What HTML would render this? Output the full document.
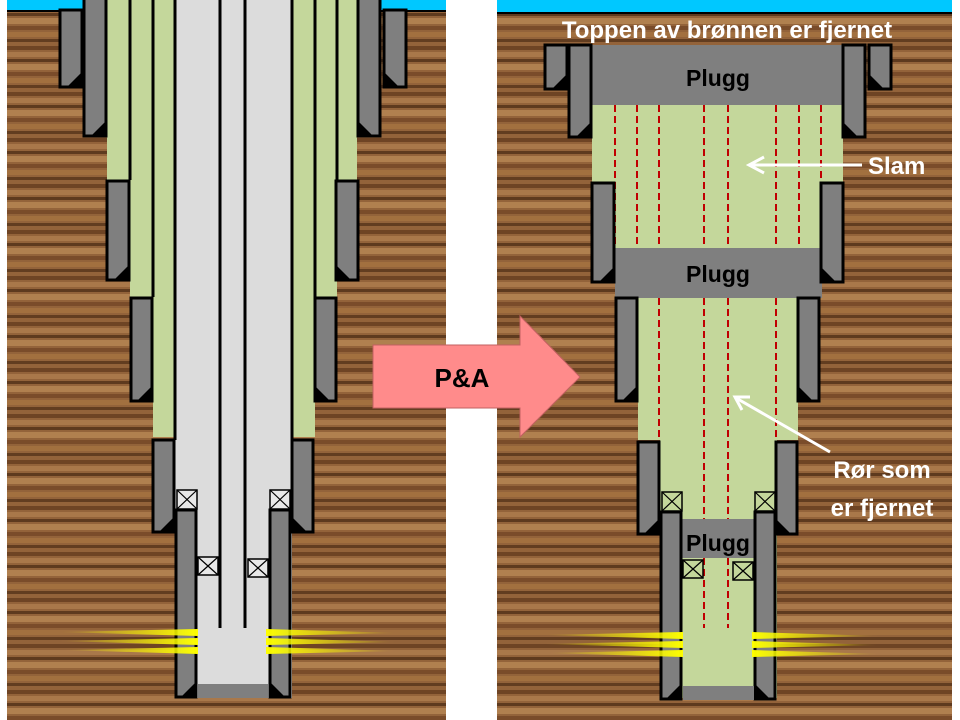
<!DOCTYPE html>
<html><head><meta charset="utf-8"><style>
html,body{margin:0;padding:0;background:#fff;width:960px;height:720px;overflow:hidden}
svg{display:block}
text{font-family:"Liberation Sans",sans-serif;font-weight:bold}
</style></head><body>
<svg width="960" height="720" viewBox="0 0 960 720" xmlns="http://www.w3.org/2000/svg">
<defs>
<pattern id="wood" width="440" height="46" patternUnits="userSpaceOnUse">
<rect width="440" height="46" fill="#93633a"/>
<rect y="0" width="440" height="4" fill="#6e4424"/>
<rect y="6" width="440" height="5" fill="#a9784a"/>
<rect y="13" width="440" height="3" fill="#5e3a1e"/>
<rect y="18" width="440" height="6" fill="#b0804f"/>
<rect y="26" width="440" height="4" fill="#7a4c2a"/>
<rect y="32" width="440" height="5" fill="#a2703f"/>
<rect y="39" width="440" height="3" fill="#623d20"/>
</pattern>
<linearGradient id="yl" x1="0" x2="1"><stop offset="0" stop-color="#ffff00" stop-opacity="0"/><stop offset="1" stop-color="#ffff00"/></linearGradient>
<linearGradient id="yr" x1="0" x2="1"><stop offset="0" stop-color="#ffff00"/><stop offset="1" stop-color="#ffff00" stop-opacity="0"/></linearGradient>
</defs>

<!-- LEFT PANEL -->
<rect x="7" y="0" width="439" height="720" fill="url(#wood)"/>
<rect x="7" y="0" width="439" height="10" fill="#00c8ff"/>
<rect x="7" y="10" width="439" height="2" fill="#000"/>
<rect x="107" y="0" width="250" height="180" fill="#c4d79b"/>
<rect x="130" y="0" width="207" height="297" fill="#c4d79b"/>
<rect x="153" y="0" width="162" height="437" fill="#c4d79b"/>
<rect x="175" y="0" width="117" height="698" fill="#dcdcdc"/>
<g stroke="#000" stroke-width="3">
<line x1="130" y1="0" x2="130" y2="180"/><line x1="337" y1="0" x2="337" y2="180"/>
<line x1="153" y1="0" x2="153" y2="297"/><line x1="315" y1="0" x2="315" y2="297"/>
<line x1="175" y1="0" x2="175" y2="440"/><line x1="292" y1="0" x2="292" y2="440"/>
<line x1="220" y1="0" x2="220" y2="628"/><line x1="245" y1="0" x2="245" y2="628"/>
</g>
<g fill="#7f7f7f" stroke="#000" stroke-width="3">
<rect x="60" y="10" width="22" height="77"/><rect x="384" y="10" width="22" height="77"/>
<rect x="84" y="-5" width="22" height="141"/><rect x="358" y="-5" width="22" height="141"/>
<rect x="107" y="181" width="22" height="99"/><rect x="336" y="181" width="22" height="99"/>
<rect x="131" y="298" width="21" height="103"/><rect x="315" y="298" width="21" height="103"/>
<rect x="153" y="440" width="21" height="92"/><rect x="292" y="440" width="21" height="92"/>
<rect x="176" y="510" width="20" height="187"/><rect x="270" y="510" width="20" height="187"/>
</g>
<g fill="#000">
<polygon points="82,72 82,87 67,87"/><polygon points="384,72 384,87 399,87"/>
<polygon points="106,121 106,136 91,136"/><polygon points="358,121 358,136 373,136"/>
<polygon points="129,265 129,280 114,280"/><polygon points="336,265 336,280 351,280"/>
<polygon points="152,386 152,401 137,401"/><polygon points="315,386 315,401 330,401"/>
<polygon points="174,517 174,532 159,532"/><polygon points="292,517 292,532 307,532"/>
<polygon points="196,682 196,697 181,697"/><polygon points="270,682 270,697 285,697"/>
</g>
<rect x="198" y="684" width="70" height="14" fill="#7f7f7f"/>
<g fill="#e8e8e8" stroke="#000" stroke-width="1.5">
<rect x="177" y="490" width="20" height="19"/><rect x="270" y="490" width="20" height="19"/>
<rect x="198" y="557" width="20" height="18"/><rect x="248" y="559" width="20" height="18"/>
</g>
<g stroke="#000" stroke-width="1.2">
<path d="M177 490L197 509M197 490L177 509M270 490L290 509M290 490L270 509M198 557L218 575M218 557L198 575M248 559L268 577M268 559L248 577"/>
</g>
<g>
<polygon points="58,632 198,629 198,636" fill="url(#yl)"/>
<polygon points="58,641 198,638 198,645" fill="url(#yl)"/>
<polygon points="62,650 198,647 198,654" fill="url(#yl)"/>
<polygon points="266,629 397,633 266,636" fill="url(#yr)"/>
<polygon points="266,638 397,642 266,645" fill="url(#yr)"/>
<polygon points="266,647 397,651 266,654" fill="url(#yr)"/>
</g>

<!-- RIGHT PANEL -->
<rect x="497" y="0" width="455" height="720" fill="url(#wood)"/>
<rect x="497" y="0" width="455" height="12" fill="#00c8ff"/>
<rect x="497" y="12" width="455" height="2" fill="#000"/>
<rect x="592" y="105" width="251" height="78" fill="#c4d79b"/>
<rect x="615" y="183" width="207" height="115" fill="#c4d79b"/>
<rect x="638" y="298" width="160" height="142" fill="#c4d79b"/>
<rect x="660" y="440" width="117" height="258" fill="#c4d79b"/>
<rect x="592" y="45" width="251" height="60" fill="#7f7f7f"/>
<rect x="615" y="248" width="207" height="50" fill="#7f7f7f"/>
<g stroke="#c00000" stroke-width="2" stroke-dasharray="7,4">
<path d="M615 105V248M637 105V248M659 105V248M704 105V248M728 105V248M776 105V248M799 105V248M821 105V248"/>
<path d="M659 298V440M704 298V520M728 298V520M776 298V440"/>
<path d="M704 558V628M728 558V628"/>
</g>
<rect x="682" y="519" width="72" height="39" fill="#7f7f7f"/>
<g fill="#7f7f7f" stroke="#000" stroke-width="3">
<rect x="545" y="45" width="22" height="44"/><rect x="869" y="45" width="22" height="44"/>
<rect x="569" y="45" width="22" height="92"/><rect x="843" y="45" width="22" height="92"/>
<rect x="592" y="183" width="22" height="99"/><rect x="821" y="183" width="22" height="99"/>
<rect x="616" y="298" width="21" height="103"/><rect x="798" y="298" width="21" height="103"/>
<rect x="638" y="442" width="21" height="92"/><rect x="776" y="442" width="21" height="92"/>
<rect x="661" y="512" width="20" height="187"/><rect x="755" y="512" width="20" height="187"/>
</g>
<g fill="#000">
<polygon points="567,74 567,89 552,89"/><polygon points="869,74 869,89 884,89"/>
<polygon points="591,122 591,137 576,137"/><polygon points="843,122 843,137 858,137"/>
<polygon points="614,267 614,282 599,282"/><polygon points="821,267 821,282 836,282"/>
<polygon points="637,386 637,401 622,401"/><polygon points="798,386 798,401 813,401"/>
<polygon points="659,519 659,534 644,534"/><polygon points="776,519 776,534 791,534"/>
<polygon points="681,684 681,699 666,699"/><polygon points="755,684 755,699 770,699"/>
</g>
<rect x="683" y="686" width="71" height="14" fill="#7f7f7f"/>
<g fill="#c4d79b" stroke="#000" stroke-width="1.5">
<rect x="662" y="492" width="20" height="19"/><rect x="755" y="492" width="20" height="19"/>
<rect x="683" y="560" width="20" height="18"/><rect x="733" y="562" width="20" height="18"/>
</g>
<g stroke="#000" stroke-width="1.2">
<path d="M662 492L682 511M682 492L662 511M755 492L775 511M775 492L755 511M683 560L703 578M703 560L683 578M733 562L753 580M753 562L733 580"/>
</g>
<g>
<polygon points="543,635 683,632 683,639" fill="url(#yl)"/>
<polygon points="543,644 683,641 683,648" fill="url(#yl)"/>
<polygon points="547,653 683,650 683,657" fill="url(#yl)"/>
<polygon points="752,632 880,636 752,639" fill="url(#yr)"/>
<polygon points="752,641 880,645 752,648" fill="url(#yr)"/>
<polygon points="752,650 880,654 752,657" fill="url(#yr)"/>
</g>

<text x="718" y="86" font-size="23" text-anchor="middle" fill="#000">Plugg</text>
<text x="718" y="282" font-size="23" text-anchor="middle" fill="#000">Plugg</text>
<text x="718" y="551" font-size="23" text-anchor="middle" fill="#000">Plugg</text>
<text x="727" y="38" font-size="24" text-anchor="middle" fill="#fff">Toppen av brønnen er fjernet</text>
<text x="868" y="174" font-size="24" fill="#fff">Slam</text>
<text x="882" y="478" font-size="24" text-anchor="middle" fill="#fff">Rør som</text>
<text x="882" y="516" font-size="24" text-anchor="middle" fill="#fff">er fjernet</text>
<g stroke="#fff" stroke-width="3" fill="none">
<line x1="862" y1="165" x2="750" y2="165"/>
<polyline points="764,157 749,165 764,173"/>
<line x1="830" y1="452" x2="736" y2="398"/>
<polyline points="742,410 735,397 750,397"/>
</g>

<!-- ARROW (on top) -->
<polygon points="373,345 520,345 520,316 580,377 520,437 520,408 373,408" fill="#ff8b8b" stroke="#c06060" stroke-width="1"/>
<text x="462" y="387" font-size="26" text-anchor="middle" fill="#000">P&amp;A</text>
</svg>
</body></html>
